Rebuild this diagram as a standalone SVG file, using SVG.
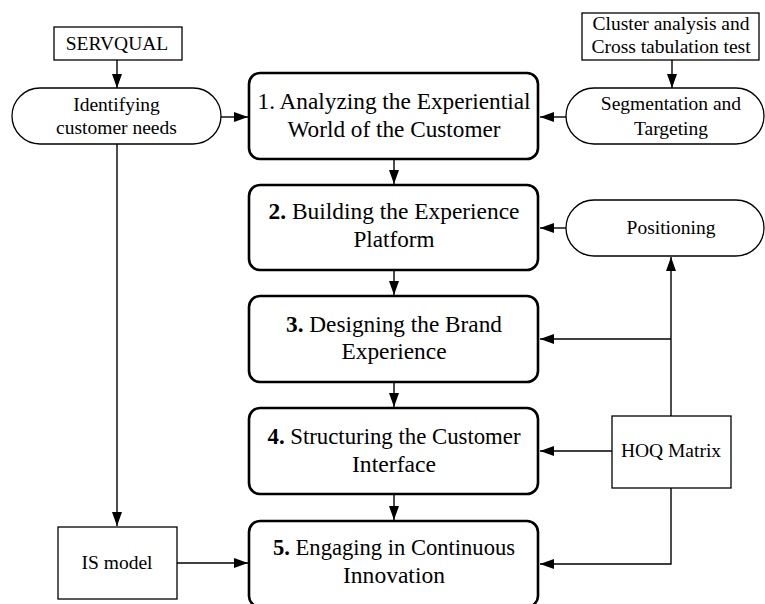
<svg xmlns="http://www.w3.org/2000/svg" width="765" height="604" viewBox="0 0 765 604">
<style>
  text { font-family: "Liberation Serif", "Times New Roman", serif; fill: #000; text-anchor: middle; }
  .big { font-size: 24px; }
  .sm { font-size: 19.5px; }
  .main { fill: #fff; stroke: #000; stroke-width: 2.6; }
  .thin { fill: #fff; stroke: #000; stroke-width: 1.3; }
  .conn { fill: none; stroke: #000; stroke-width: 1.4; }
  .b { font-weight: bold; }
</style>
<defs>
  <marker id="arr" markerUnits="userSpaceOnUse" markerWidth="14" markerHeight="10" refX="14" refY="5" orient="auto">
    <path d="M0,0 L14,5 L0,10 z" fill="#000"/>
  </marker>
</defs>
<rect width="765" height="604" fill="#fff"/>

<g id="connectors">
  <path class="conn" d="M117,60 V88" marker-end="url(#arr)"/>
  <path class="conn" d="M672,60 V88" marker-end="url(#arr)"/>
  <path class="conn" d="M221,117 H248" marker-end="url(#arr)"/>
  <path class="conn" d="M566,117 H540" marker-end="url(#arr)"/>
  <path class="conn" d="M394,159 V184" marker-end="url(#arr)"/>
  <path class="conn" d="M394,270 V295" marker-end="url(#arr)"/>
  <path class="conn" d="M394,382 V407" marker-end="url(#arr)"/>
  <path class="conn" d="M394,494 V520" marker-end="url(#arr)"/>
  <path class="conn" d="M566,228 H540" marker-end="url(#arr)"/>
  <path class="conn" d="M671,416 V257" marker-end="url(#arr)"/>
  <path class="conn" d="M671,339 H540" marker-end="url(#arr)"/>
  <path class="conn" d="M612,451 H540" marker-end="url(#arr)"/>
  <path class="conn" d="M671,488 V564 H540" marker-end="url(#arr)"/>
  <path class="conn" d="M117,144 V526" marker-end="url(#arr)"/>
  <path class="conn" d="M177,563 H248" marker-end="url(#arr)"/>
</g>

<g id="servqual">
  <rect class="thin" x="54" y="27" width="128" height="33"/>
  <text class="sm" x="117" y="50">SERVQUAL</text>
</g>

<g id="identifying">
  <rect class="thin" x="12" y="88" width="209" height="56" rx="28" ry="28"/>
  <text class="sm" x="116.5" y="111">Identifying</text>
  <text class="sm" x="116.5" y="134">customer needs</text>
</g>

<g id="cluster">
  <rect class="thin" x="582" y="13" width="177" height="47"/>
  <text class="sm" x="671" y="30">Cluster analysis and</text>
  <text class="sm" x="671" y="53">Cross tabulation test</text>
</g>

<g id="segmentation">
  <rect class="thin" x="566" y="88" width="198" height="56" rx="28" ry="28"/>
  <text class="sm" x="671" y="110">Segmentation and</text>
  <text class="sm" x="671" y="135">Targeting</text>
</g>

<g id="positioning">
  <rect class="thin" x="566" y="200" width="198" height="56" rx="28" ry="28"/>
  <text class="sm" x="671" y="234">Positioning</text>
</g>

<g id="step1">
  <rect class="main" x="249" y="73" width="289" height="86" rx="11" ry="11"/>
  <text class="big" x="394" y="109" textLength="273" lengthAdjust="spacingAndGlyphs">1. Analyzing the Experiential</text>
  <text class="big" x="394" y="137" textLength="213" lengthAdjust="spacingAndGlyphs">World of the Customer</text>
</g>

<g id="step2">
  <rect class="main" x="249" y="185" width="289" height="85" rx="11" ry="11"/>
  <text class="big" x="394" y="219" textLength="251" lengthAdjust="spacingAndGlyphs"><tspan class="b">2.</tspan> Building the Experience</text>
  <text class="big" x="394" y="247" textLength="81" lengthAdjust="spacingAndGlyphs">Platform</text>
</g>

<g id="step3">
  <rect class="main" x="249" y="296" width="289" height="86" rx="11" ry="11"/>
  <text class="big" x="394" y="332" textLength="216" lengthAdjust="spacingAndGlyphs"><tspan class="b">3.</tspan> Designing the Brand</text>
  <text class="big" x="394" y="359" textLength="105" lengthAdjust="spacingAndGlyphs">Experience</text>
</g>

<g id="step4">
  <rect class="main" x="249" y="408" width="289" height="86" rx="11" ry="11"/>
  <text class="big" x="394" y="444" textLength="253" lengthAdjust="spacingAndGlyphs"><tspan class="b">4.</tspan> Structuring the Customer</text>
  <text class="big" x="394" y="472" textLength="84" lengthAdjust="spacingAndGlyphs">Interface</text>
</g>

<g id="step5">
  <rect class="main" x="249" y="521" width="289" height="86" rx="11" ry="11"/>
  <text class="big" x="394" y="555" textLength="242" lengthAdjust="spacingAndGlyphs"><tspan class="b">5.</tspan> Engaging in Continuous</text>
  <text class="big" x="394" y="583" textLength="102" lengthAdjust="spacingAndGlyphs">Innovation</text>
</g>

<g id="hoq">
  <rect class="thin" x="612" y="416" width="119" height="72"/>
  <text class="sm" x="671" y="457">HOQ Matrix</text>
</g>

<g id="ismodel">
  <rect class="thin" x="58" y="527" width="119" height="72"/>
  <text class="sm" x="117" y="569">IS model</text>
</g>
</svg>
